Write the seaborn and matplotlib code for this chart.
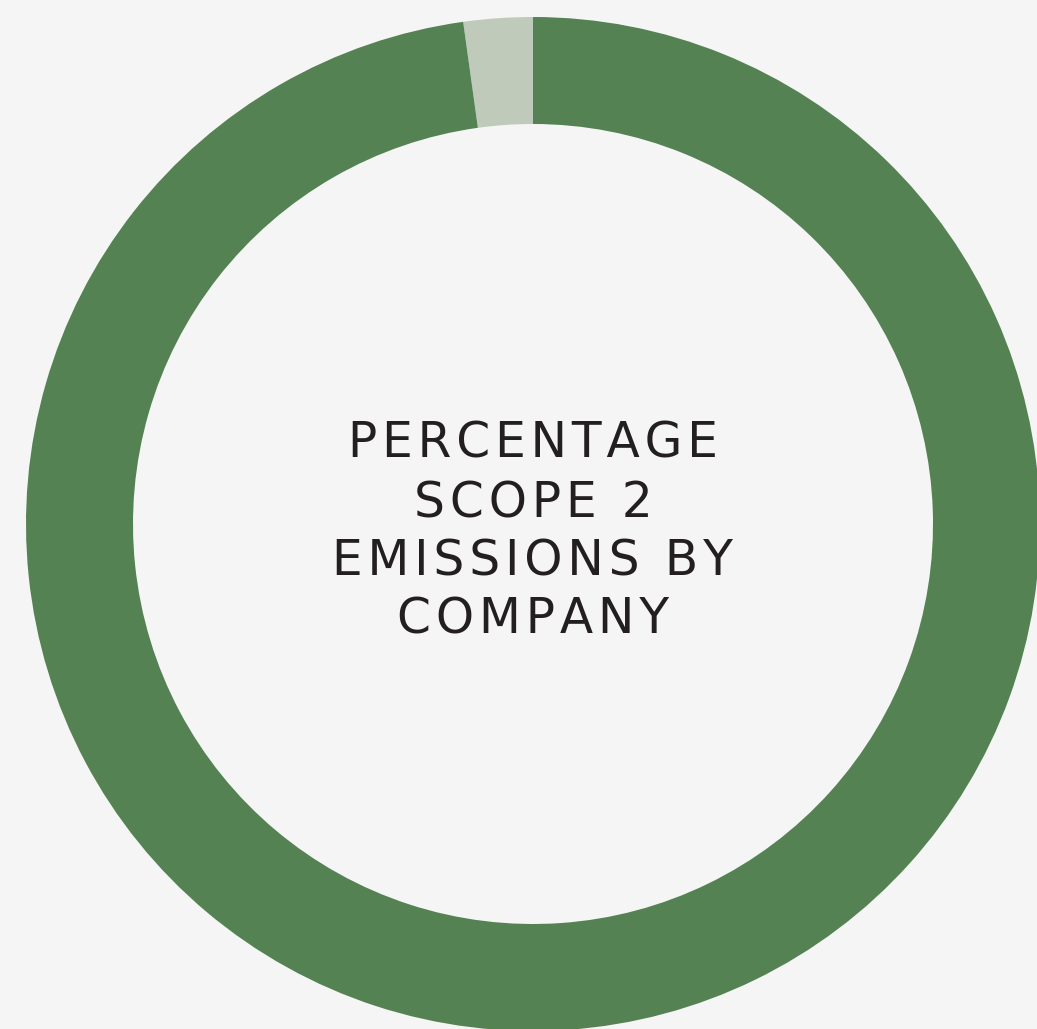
import matplotlib
matplotlib.use("Agg")
import matplotlib.pyplot as plt
import seaborn as sns

# Share of scope 2 emissions
companies = ["Other", "Company"]
shares = [2.2, 97.8]
colors = ["#c0cabb", "#548253"]
title_lines = ["PERCENTAGE", "SCOPE 2", "EMISSIONS BY", "COMPANY"]

sns.set_theme(style="white")
plt.rcParams["font.family"] = ["DejaVu Sans"]

W, H = 1037, 1029
fig = plt.figure(figsize=(W / 100, H / 100), dpi=100, facecolor="#f5f5f5")
ax = fig.add_axes([0, 0, 1, 1])
ax.set_facecolor("#f5f5f5")
ax.set_xlim(0, W)
ax.set_ylim(0, H)
ax.set_aspect("equal")
ax.axis("off")

cx, cy = 533, H - 524
r_out, r_in = 507, 400
ax.pie(shares, colors=colors, startangle=90, counterclock=True,
       radius=r_out, center=(cx, cy),
       wedgeprops=dict(width=r_out - r_in, linewidth=0))
ax.set_xlim(0, W)
ax.set_ylim(0, H)


def tracked(s, gap="\u200a"):
    # widen letter spacing with hair spaces
    return gap.join(s)


baselines = [458, 517, 575, 633]
for txt, y in zip(title_lines, baselines):
    ax.text(cx, H - y, tracked(txt), ha="center", va="baseline",
            fontsize=35, color="#231f20", fontweight="normal")

fig.savefig("out.png", dpi=100, facecolor=fig.get_facecolor())
